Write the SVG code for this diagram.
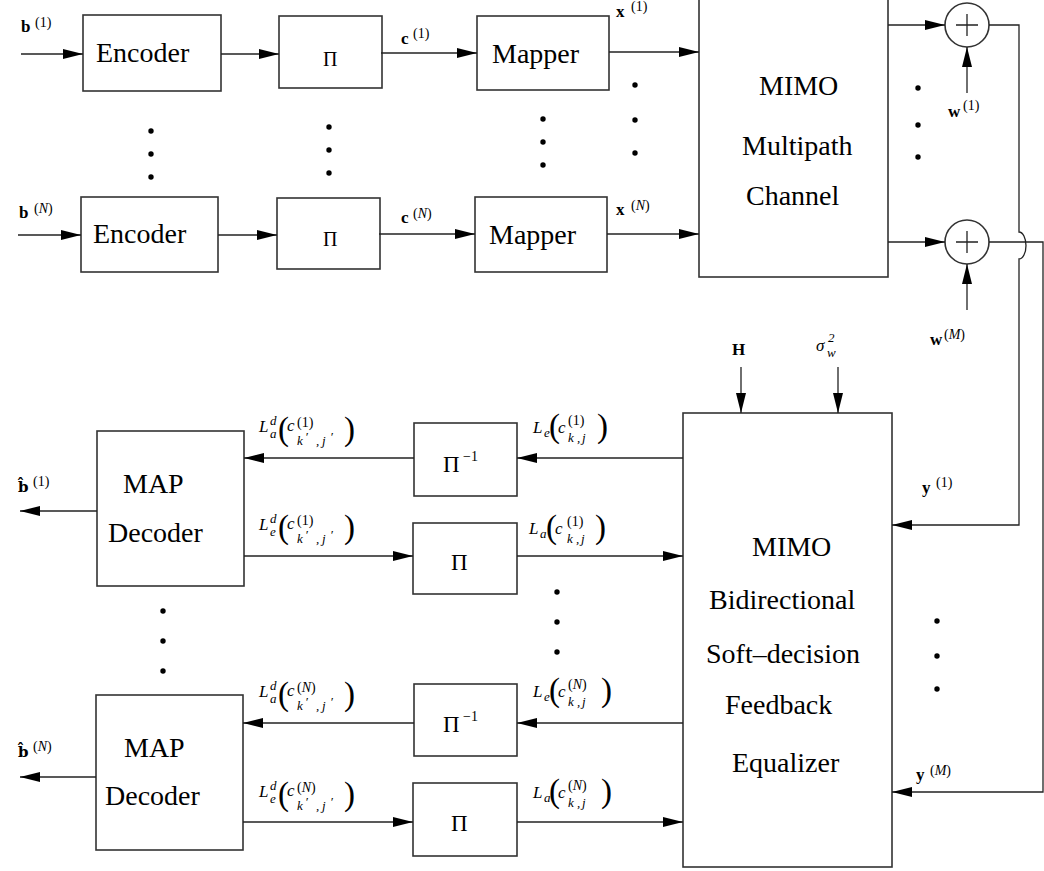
<svg xmlns="http://www.w3.org/2000/svg" width="1044" height="871" viewBox="0 0 1044 871">
<style>
  .box{fill:#fff;stroke:#333;stroke-width:1.6}
  .wire{fill:none;stroke:#222;stroke-width:1.3}
  .arr{marker-end:url(#ah)}
  .dot{fill:#000}
  text{font-family:"Liberation Serif","DejaVu Serif",serif;fill:#000}
  .big{font-size:28px}
  .pi{font-size:20px}
  .pi2{font-size:23px}
  .v{font-weight:bold;font-size:17px}
  .hat{font-family:"DejaVu Serif",serif;font-weight:bold;font-size:15px}
  .sp{font-size:14px}
  .mi{font-style:italic;font-size:17px}
  .ms{font-style:italic;font-size:13px}
  .pr{font-size:14px}
  .par{font-size:33px}
</style>
<defs>
  <marker id="ah" markerUnits="userSpaceOnUse" markerWidth="20" markerHeight="10" refX="20" refY="5" orient="auto">
    <path d="M0,0 L20,5 L0,10 z" fill="#000"/>
  </marker>
</defs>
<rect width="1044" height="871" fill="#fff"/>

<!-- transmitter chain -->
<g id="encoder1"><rect class="box" x="83" y="15" width="138" height="76"/><text class="big" x="96" y="62">Encoder</text></g>
<g id="encoderN"><rect class="box" x="81" y="197" width="137" height="75"/><text class="big" x="93" y="243">Encoder</text></g>
<g id="interleaver1"><rect class="box" x="279" y="16" width="103" height="72"/><text class="pi" x="323" y="66">Π</text></g>
<g id="interleaverN"><rect class="box" x="277" y="198" width="103" height="71"/><text class="pi" x="323" y="246">Π</text></g>
<g id="mapper1"><rect class="box" x="477" y="16" width="132" height="74"/><text class="big" x="492" y="63">Mapper</text></g>
<g id="mapperN"><rect class="box" x="475" y="197" width="132" height="75"/><text class="big" x="489" y="244">Mapper</text></g>
<g id="channel"><rect class="box" x="699" y="-5" width="189" height="282"/>
  <text class="big" x="759" y="95">MIMO</text>
  <text class="big" x="742" y="155">Multipath</text>
  <text class="big" x="746" y="205">Channel</text>
</g>
<g id="adder1"><circle class="box" cx="967" cy="25" r="22"/><path class="wire" d="M956,25 H978 M967,14 V36"/></g>
<g id="adderM"><circle class="box" cx="967" cy="242" r="22"/><path class="wire" d="M956,242 H978 M967,231 V253"/></g>

<!-- receiver -->
<g id="equalizer"><rect class="box" x="683" y="413" width="209" height="454"/>
  <text class="big" x="752" y="556">MIMO</text>
  <text class="big" x="709" y="609">Bidirectional</text>
  <text class="big" x="706" y="663">Soft–decision</text>
  <text class="big" x="725" y="714">Feedback</text>
  <text class="big" x="732" y="772">Equalizer</text>
</g>
<g id="deinterleaver1"><rect class="box" x="414" y="423" width="103" height="73"/><text class="pi2" x="443" y="472">Π</text><text class="sp" x="463" y="461" font-size="15">−1</text></g>
<g id="reinterleaver1"><rect class="box" x="413" y="523" width="104" height="71"/><text class="pi2" x="451" y="570">Π</text></g>
<g id="deinterleaverN"><rect class="box" x="414" y="684" width="103" height="72"/><text class="pi2" x="443" y="732">Π</text><text class="sp" x="463" y="721" font-size="15">−1</text></g>
<g id="reinterleaverN"><rect class="box" x="413" y="783" width="104" height="73"/><text class="pi2" x="451" y="831">Π</text></g>
<g id="decoder1"><rect class="box" x="97" y="431" width="147" height="155"/><text class="big" x="123" y="493">MAP</text><text class="big" x="108" y="542">Decoder</text></g>
<g id="decoderN"><rect class="box" x="96" y="695" width="147" height="155"/><text class="big" x="124" y="757">MAP</text><text class="big" x="105" y="805">Decoder</text></g>

<!-- connectors -->
<g id="connectors">
  <path class="wire arr" d="M21,54 H83"/>
  <path class="wire arr" d="M18,235 H81"/>
  <path class="wire arr" d="M221,54 H279"/>
  <path class="wire arr" d="M218,235 H277"/>
  <path class="wire arr" d="M381,53 H477"/>
  <path class="wire arr" d="M379,234 H475"/>
  <path class="wire arr" d="M609,52 H699"/>
  <path class="wire arr" d="M607,234 H699"/>
  <path class="wire arr" d="M888,25 H945"/>
  <path class="wire arr" d="M888,242 H945"/>
  <path class="wire arr" d="M967,93 V47"/>
  <path class="wire arr" d="M967,310 V264"/>
  <path class="wire arr" d="M989,25 H1019 V232 A7,13.5 0 0 1 1019,259 V525 H892"/>
  <path class="wire arr" d="M989,242 H1043 V792 H892"/>
  <path class="wire arr" d="M741,367 V413"/>
  <path class="wire arr" d="M838,367 V413"/>
  <path class="wire arr" d="M683,458 H517"/>
  <path class="wire arr" d="M414,458 H244"/>
  <path class="wire arr" d="M244,556 H413"/>
  <path class="wire arr" d="M517,556 H683"/>
  <path class="wire arr" d="M683,723 H517"/>
  <path class="wire arr" d="M414,723 H243"/>
  <path class="wire arr" d="M243,822 H413"/>
  <path class="wire arr" d="M517,822 H683"/>
  <path class="wire arr" d="M97,511 H20"/>
  <path class="wire arr" d="M96,777 H20"/>
</g>

<!-- continuation dots -->
<g id="dots" class="dot">
  <circle cx="151" cy="131" r="2.7"/><circle cx="151" cy="154" r="2.7"/><circle cx="151" cy="177" r="2.7"/>
  <circle cx="329" cy="127" r="2.7"/><circle cx="329" cy="150" r="2.7"/><circle cx="329" cy="173" r="2.7"/>
  <circle cx="543" cy="119" r="2.7"/><circle cx="543" cy="142" r="2.7"/><circle cx="543" cy="165" r="2.7"/>
  <circle cx="635" cy="85" r="2.7"/><circle cx="635" cy="120" r="2.7"/><circle cx="635" cy="153" r="2.7"/>
  <circle cx="918" cy="88" r="2.7"/><circle cx="918" cy="125" r="2.7"/><circle cx="918" cy="157" r="2.7"/>
  <circle cx="163" cy="611" r="2.7"/><circle cx="163" cy="641" r="2.7"/><circle cx="163" cy="671" r="2.7"/>
  <circle cx="557" cy="592" r="2.7"/><circle cx="557" cy="622" r="2.7"/><circle cx="557" cy="652" r="2.7"/>
  <circle cx="937" cy="621" r="2.7"/><circle cx="937" cy="656" r="2.7"/><circle cx="937" cy="689" r="2.7"/>
</g>

<!-- signal labels -->
<g id="labels">
  <text class="v" x="21" y="32">b</text><text class="sp" x="35" y="27">(1)</text>
  <text class="v" x="19" y="218">b</text><text class="sp" x="34" y="213">(<tspan font-style="italic">N</tspan>)</text>
  <text class="v" x="401" y="44">c</text><text class="sp" x="413" y="38">(1)</text>
  <text class="v" x="401" y="223">c</text><text class="sp" x="413" y="218">(<tspan font-style="italic">N</tspan>)</text>
  <text class="v" x="616" y="17">x</text><text class="sp" x="631" y="11">(1)</text>
  <text class="v" x="616" y="215">x</text><text class="sp" x="631" y="210">(<tspan font-style="italic">N</tspan>)</text>
  <text class="v" x="948" y="117">w</text><text class="sp" x="963" y="110">(1)</text>
  <text class="v" x="930" y="345">w</text><text class="sp" x="944" y="339">(<tspan font-style="italic">M</tspan>)</text>
  <text class="v" x="732" y="355">H</text>
  <text class="mi" x="816" y="351" font-size="18">σ</text><text class="ms" x="828" y="342">2</text><text class="ms" x="827" y="357">w</text>
  <text class="v" x="922" y="493">y</text><text class="sp" x="936" y="487">(1)</text>
  <text class="v" x="916" y="780">y</text><text class="sp" x="930" y="775">(<tspan font-style="italic">M</tspan>)</text>
  <text class="hat" x="18" y="492">b̂</text><text class="sp" x="33" y="486">(1)</text>
  <text class="hat" x="18" y="757">b̂</text><text class="sp" x="33" y="751">(<tspan font-style="italic">N</tspan>)</text>
</g>

<!-- decoder-side LLR labels -->
<g id="lad1" transform="translate(259,432)">
  <text class="mi" x="0" y="0">L</text><text class="ms" x="11" y="-7">d</text><text class="ms" x="11" y="6">a</text>
  <text class="par" x="19" y="8">(</text><text class="mi" x="28" y="-1">c</text><text class="pr" x="38" y="-5">(1)</text>
  <text class="ms" x="38" y="13">k</text><text class="ms" x="46" y="9">′</text><text class="ms" x="57" y="13">,</text><text class="ms" x="63" y="13">j</text><text class="ms" x="71" y="9">′</text>
  <text class="par" x="85" y="8">)</text>
</g>
<g id="led1" transform="translate(259,530)">
  <text class="mi" x="0" y="0">L</text><text class="ms" x="11" y="-7">d</text><text class="ms" x="11" y="6">e</text>
  <text class="par" x="19" y="8">(</text><text class="mi" x="28" y="-1">c</text><text class="pr" x="38" y="-5">(1)</text>
  <text class="ms" x="38" y="13">k</text><text class="ms" x="46" y="9">′</text><text class="ms" x="57" y="13">,</text><text class="ms" x="63" y="13">j</text><text class="ms" x="71" y="9">′</text>
  <text class="par" x="85" y="8">)</text>
</g>
<g id="ladN" transform="translate(259,697)">
  <text class="mi" x="0" y="0">L</text><text class="ms" x="11" y="-7">d</text><text class="ms" x="11" y="6">a</text>
  <text class="par" x="19" y="8">(</text><text class="mi" x="28" y="-1">c</text><text class="pr" x="38" y="-5">(<tspan font-style="italic">N</tspan>)</text>
  <text class="ms" x="38" y="13">k</text><text class="ms" x="46" y="9">′</text><text class="ms" x="57" y="13">,</text><text class="ms" x="63" y="13">j</text><text class="ms" x="71" y="9">′</text>
  <text class="par" x="85" y="8">)</text>
</g>
<g id="ledN" transform="translate(259,797)">
  <text class="mi" x="0" y="0">L</text><text class="ms" x="11" y="-7">d</text><text class="ms" x="11" y="6">e</text>
  <text class="par" x="19" y="8">(</text><text class="mi" x="28" y="-1">c</text><text class="pr" x="38" y="-5">(<tspan font-style="italic">N</tspan>)</text>
  <text class="ms" x="38" y="13">k</text><text class="ms" x="46" y="9">′</text><text class="ms" x="57" y="13">,</text><text class="ms" x="63" y="13">j</text><text class="ms" x="71" y="9">′</text>
  <text class="par" x="85" y="8">)</text>
</g>

<!-- equalizer-side LLR labels -->
<g id="le1" transform="translate(533,433)">
  <text class="mi" x="0" y="0">L</text><text class="ms" x="11" y="4">e</text>
  <text class="par" x="16" y="4">(</text><text class="mi" x="25" y="0">c</text><text class="pr" x="35" y="-8">(1)</text>
  <text class="ms" x="35" y="9">k</text><text class="ms" x="44" y="9">,</text><text class="ms" x="49" y="9">j</text>
  <text class="par" x="64" y="4">)</text>
</g>
<g id="la1" transform="translate(529,534)">
  <text class="mi" x="0" y="0">L</text><text class="ms" x="11" y="4">a</text>
  <text class="par" x="17" y="4">(</text><text class="mi" x="26" y="0">c</text><text class="pr" x="38" y="-8">(1)</text>
  <text class="ms" x="38" y="9">k</text><text class="ms" x="47" y="9">,</text><text class="ms" x="52" y="9">j</text>
  <text class="par" x="66" y="4">)</text>
</g>
<g id="leN" transform="translate(533,697)">
  <text class="mi" x="0" y="0">L</text><text class="ms" x="11" y="4">e</text>
  <text class="par" x="16" y="4">(</text><text class="mi" x="25" y="0">c</text><text class="pr" x="35" y="-8">(<tspan font-style="italic">N</tspan>)</text>
  <text class="ms" x="35" y="9">k</text><text class="ms" x="44" y="9">,</text><text class="ms" x="49" y="9">j</text>
  <text class="par" x="68" y="4">)</text>
</g>
<g id="laN" transform="translate(533,798)">
  <text class="mi" x="0" y="0">L</text><text class="ms" x="11" y="4">a</text>
  <text class="par" x="16" y="4">(</text><text class="mi" x="25" y="0">c</text><text class="pr" x="35" y="-8">(<tspan font-style="italic">N</tspan>)</text>
  <text class="ms" x="35" y="9">k</text><text class="ms" x="44" y="9">,</text><text class="ms" x="49" y="9">j</text>
  <text class="par" x="68" y="4">)</text>
</g>
</svg>
